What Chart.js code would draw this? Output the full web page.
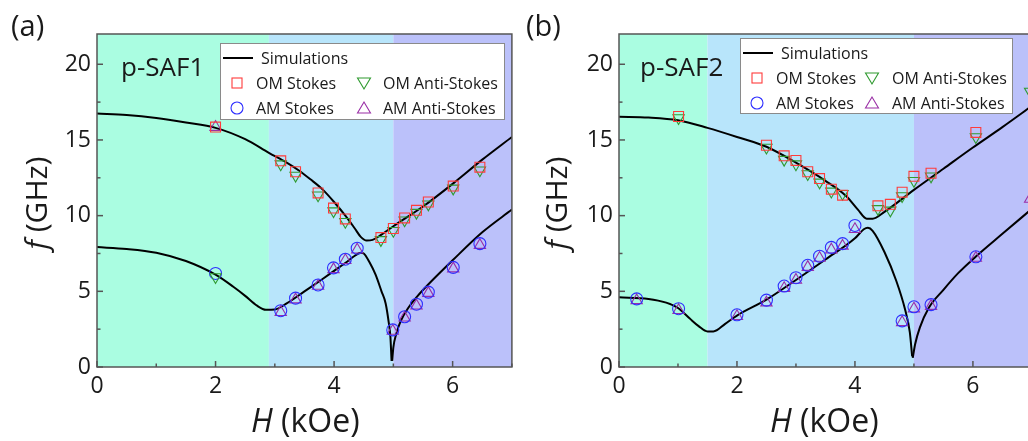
<!DOCTYPE html>
<html>
<head>
<meta charset="utf-8">
<script src="https://cdn.jsdelivr.net/npm/chart.js@4.4.1/dist/chart.umd.min.js"></script>
<style>
  body { margin: 0; background: #fff; overflow: hidden; width: 1028px; height: 441px; position: relative; font-family: 'Open Sans', sans-serif; color: #1a1a1a; }
  canvas { position: absolute; top: 0; }
  .txt { position: absolute; white-space: nowrap; line-height: 1; }
  .legend { position: absolute; background: #fff; border: 1px solid #8a8a8a; box-sizing: border-box; }
  .legend .lab { position: absolute; font-size: 16px; line-height: 1; transform: translateY(-50%); white-space: nowrap; color: #1a1a1a; }
  .legend svg { position: absolute; overflow: visible; }
</style>
</head>
<body>
<canvas id="chartA" width="520" height="441" style="left:0"></canvas>
<canvas id="chartB" width="520" height="441" style="left:520px"></canvas>

<div class="txt" style="left:11px;top:10px;font-size:29px">(a)</div>
<div class="txt" style="left:526px;top:10px;font-size:29px">(b)</div>
<div class="txt" style="left:121px;top:53px;font-size:26px">p-SAF1</div>
<div class="txt" style="left:640px;top:53px;font-size:26px">p-SAF2</div>
<div class="txt" id="ytA" style="font-size:30px"><i>f</i> (GHz)</div>
<div class="txt" id="ytB" style="font-size:30px"><i>f</i> (GHz)</div>
<div class="txt" id="xtA" style="font-size:32px"><i>H</i> (kOe)</div>
<div class="txt" id="xtB" style="font-size:32px"><i>H</i> (kOe)</div>

<script>
// ---- panel (a) : p-SAF1 ----
const hA = [2.0, 3.10, 3.35, 3.73, 3.99, 4.19, 4.79, 5.0, 5.19, 5.39, 5.59, 6.01, 6.46]
const omStokesA = [15.85, 13.62, 12.9, 11.5, 10.5, 9.78, 8.55, 9.15, 9.85, 10.35, 10.9, 11.95, 13.2]
const omAntiA = [5.95, 13.4, 12.65, 11.35, 10.3, 9.6, 8.4, 9.0, 9.7, 10.2, 10.75, 11.8, 13.0]
const hA2 = [2.0, 3.10, 3.35, 3.73, 3.99, 4.19, 4.39, 4.99, 5.19, 5.39, 5.59, 6.01, 6.46]
const amStokesA = [6.18, 3.72, 4.55, 5.42, 6.55, 7.12, 7.85, 2.45, 3.32, 4.15, 4.95, 6.58, 8.15]
const amAntiA = [15.85, 3.62, 4.45, 5.35, 6.45, 7.05, 7.75, 2.38, 3.25, 4.05, 4.88, 6.5, 8.05]

// simulation curves (a)
const simUpHA = [0, 0.5, 1, 1.5, 2, 2.5, 2.9, 3.2, 3.4, 3.6, 3.8, 4.0, 4.2, 4.35, 4.45, 4.55, 4.65, 4.8, 5.0, 5.5, 6.0, 6.5, 7.0]
const simUpFA = [16.75, 16.65, 16.45, 16.15, 15.8, 15.05, 14.15, 13.5, 13.0, 12.4, 11.75, 10.9, 9.95, 9.15, 8.6, 8.35, 8.4, 8.75, 9.3, 10.6, 12.1, 13.7, 15.2]
const simLoHA = [0, 0.5, 1, 1.5, 2.0, 2.3, 2.5, 2.7, 2.85, 3.0, 3.2, 3.5, 3.8, 4.0, 4.2, 4.35, 4.45, 4.5, 4.6, 4.7, 4.8, 4.87, 4.92, 4.95, 4.97]
const simLoFA = [7.92, 7.8, 7.55, 7.0, 6.1, 5.3, 4.7, 4.05, 3.78, 3.8, 4.2, 5.0, 5.8, 6.35, 6.9, 7.35, 7.55, 7.5, 6.9, 6.1, 5.0, 4.2, 3.0, 2.0, 0.4]
const simHiHA = [4.98, 5.0, 5.05, 5.12, 5.25, 5.4, 5.6, 6.0, 6.5, 7.0]
const simHiFA = [0.4, 1.3, 2.2, 3.0, 3.9, 4.65, 5.5, 7.05, 8.9, 10.4]
const bandsA = [0, 2.9, 5.0, 7]

// ---- panel (b) : p-SAF2 ----
const hB = [1.01, 2.5, 2.8, 3.0, 3.2, 3.4, 3.6, 3.79, 4.39, 4.6, 4.8, 5.0, 5.29, 6.05]
const omStokesB = [16.55, 14.65, 13.95, 13.65, 12.9, 12.45, 11.75, 11.35, 10.65, 10.75, 11.55, 12.6, 12.8, 15.5]
const hB1 = [1.01, 2.5, 2.8, 3.0, 3.2, 3.4, 3.6, 3.79, 4.39, 4.6, 4.8, 5.0, 5.29, 6.05, 6.97]
const omAntiB = [16.45, 14.5, 13.7, 13.4, 12.75, 12.2, 11.6, 11.45, 10.45, 10.35, 11.3, 12.3, 12.6, 15.2, 18.2]
const hB2 = [0.30, 1.01, 2.0, 2.5, 2.8, 3.0, 3.2, 3.4, 3.6, 3.79, 4.0, 4.8, 5.0, 5.29, 6.05]
const amStokesB = [4.5, 3.85, 3.45, 4.42, 5.35, 5.9, 6.72, 7.32, 7.9, 8.15, 9.35, 3.05, 3.98, 4.12, 7.28]
const hB3 = [0.30, 1.01, 2.0, 2.5, 2.8, 3.0, 3.2, 3.4, 3.6, 3.79, 4.0, 4.8, 5.0, 5.29, 6.05, 6.97]
const amAntiB = [4.4, 3.75, 3.35, 4.25, 5.2, 5.75, 6.6, 7.2, 7.75, 8.0, 9.1, 2.95, 3.85, 4.02, 7.2, 11.1]

const simUpHB = [0, 0.5, 1.0, 1.5, 2.0, 2.5, 3.0, 3.5, 3.85, 4.05, 4.2, 4.3, 4.5, 5.0, 5.5, 6.0, 6.5, 7.0]
const simUpFB = [16.53, 16.48, 16.3, 15.8, 15.2, 14.55, 13.5, 12.3, 11.3, 10.4, 9.8, 9.8, 10.25, 11.7, 13.1, 14.5, 15.85, 17.25]
const simLoHB = [0, 0.5, 0.8, 1.0, 1.2, 1.35, 1.5, 1.6, 1.8, 2.0, 2.5, 3.0, 3.5, 4.0, 4.15, 4.22, 4.3, 4.5, 4.7, 4.85, 4.93, 4.97]
const simLoFB = [4.6, 4.5, 4.25, 3.9, 3.2, 2.7, 2.35, 2.35, 2.85, 3.4, 4.45, 5.75, 7.1, 8.5, 9.1, 9.2, 9.0, 7.6, 5.7, 3.8, 2.3, 0.7]
const simHiHB = [4.98, 5.02, 5.1, 5.25, 5.5, 5.75, 6.05, 6.5, 7.0]
const simHiFB = [0.6, 1.5, 2.6, 3.9, 5.1, 6.2, 7.3, 8.8, 10.45]
const bandsB = [0, 1.5, 5.0, 7]

const bandColors = ['#aafde1', '#b8e5fb', '#bbc1fa']
const xTicks = [0, 2, 4, 6]
const yTicks = [0, 5, 10, 15, 20]

const legendLabels = ['Simulations', 'OM Stokes', 'OM Anti-Stokes', 'AM Stokes', 'AM Anti-Stokes']

const RED = '#ff3b3b', GREEN = '#2f9a2f', BLUE = '#2e2eff', PURPLE = '#9a2fa6'

function pts(xs, ys) {
    return xs.map((x, i) => ({ x: x, y: ys[i] }))
}

function simSet(xs, ys) {
    return { type: 'line', data: pts(xs, ys), borderColor: '#000', borderWidth: 2, pointRadius: 0,
        cubicInterpolationMode: 'monotone', order: 5 }
}

function markSet(xs, ys, color, style, rot, r) {
    return { type: 'scatter', data: pts(xs, ys), borderColor: color, backgroundColor: 'rgba(0,0,0,0)',
        pointStyle: style, pointRotation: rot, pointRadius: r, pointBorderWidth: 1.1, order: 1 }
}

const bandPlugin = {
    id: 'bands',
    beforeDraw(chart, args, opts) {
        const { ctx, chartArea: a, scales: { x } } = chart
        ctx.save()
        for (var i = 0; i < 3; i++) {
            let x0 = x.getPixelForValue(opts.edges[i])
            let x1 = x.getPixelForValue(opts.edges[i + 1])
            ctx.fillStyle = bandColors[i]
            ctx.fillRect(x0, a.top, x1 - x0, a.bottom - a.top)
        }
        ctx.restore()
    }
}

const framePlugin = {
    id: 'frame',
    afterDraw(chart) {
        const { ctx, chartArea: a, scales: { x, y } } = chart
        ctx.save()
        ctx.strokeStyle = '#555'
        ctx.lineWidth = 1.5
        // minor and major ticks, pointing inward
        for (var v = 0; v <= 7; v++) {
            let px = x.getPixelForValue(v)
            let len = v % 2 == 0 ? 6 : 3.5
            ctx.beginPath(); ctx.moveTo(px, a.bottom); ctx.lineTo(px, a.bottom - len); ctx.stroke()
        }
        for (var w = 0; w <= 22; w += 2.5) {
            let py = y.getPixelForValue(w)
            let len = w % 5 == 0 ? 6 : 3.5
            ctx.beginPath(); ctx.moveTo(a.left, py); ctx.lineTo(a.left + len, py); ctx.stroke()
        }
        ctx.strokeRect(a.left, a.top, a.right - a.left, a.bottom - a.top)
        ctx.restore()
    }
}

function makeChart(id, sets, edges, leftW) {
    return new Chart(document.getElementById(id), {
        data: { datasets: sets },
        options: {
            responsive: false,
            animation: false,
            layout: { padding: { left: 0, top: 34, right: 7, bottom: 0 } },
            plugins: { legend: { display: false }, tooltip: { enabled: false }, bands: { edges: edges } },
            scales: {
                x: {
                    type: 'linear', min: 0, max: 7,
                    grid: { display: false, drawTicks: false }, border: { display: false },
                    afterFit: s => { s.height = 74 },
                    afterBuildTicks: s => { s.ticks = xTicks.map(v => ({ value: v })) },
                    ticks: { padding: 6, color: '#1a1a1a', font: { family: 'Open Sans', size: 23 } }
                },
                y: {
                    type: 'linear', min: 0, max: 22,
                    grid: { display: false, drawTicks: false }, border: { display: false },
                    afterFit: s => { s.width = leftW },
                    afterBuildTicks: s => { s.ticks = yTicks.map(v => ({ value: v })) },
                    ticks: { padding: 6, color: '#1a1a1a', font: { family: 'Open Sans', size: 23 } }
                }
            }
        },
        plugins: [bandPlugin, framePlugin]
    })
}

const chartA = makeChart('chartA', [
    simSet(simUpHA, simUpFA), simSet(simLoHA, simLoFA), simSet(simHiHA, simHiFA),
    markSet(hA, omStokesA, RED, 'rect', 0, 7),
    markSet(hA, omAntiA, GREEN, 'triangle', 180, 6.5),
    markSet(hA2, amStokesA, BLUE, 'circle', 0, 6),
    markSet(hA2, amAntiA, PURPLE, 'triangle', 0, 6.5)
], bandsA, 97)

const chartB = makeChart('chartB', [
    simSet(simUpHB, simUpFB), simSet(simLoHB, simLoFB), simSet(simHiHB, simHiFB),
    markSet(hB, omStokesB, RED, 'rect', 0, 7),
    markSet(hB1, omAntiB, GREEN, 'triangle', 180, 6.5),
    markSet(hB2, amStokesB, BLUE, 'circle', 0, 6),
    markSet(hB3, amAntiB, PURPLE, 'triangle', 0, 6.5)
], bandsB, 99)

// axis titles placed from chart areas
function placeTitles(chart, offX, xt, yt) {
    const a = chart.chartArea
    const xe = document.getElementById(xt)
    const ye = document.getElementById(yt)
    xe.style.left = (offX + (a.left + a.right) / 2 + 1 - xe.offsetWidth / 2 - (offX ? 2 : 0)) + 'px'
    xe.style.top = '404px'
    ye.style.left = (offX + 36 - ye.offsetWidth / 2) + 'px'
    ye.style.top = (203 - ye.offsetHeight / 2) + 'px'
    ye.style.transform = 'rotate(-90deg)'
}
placeTitles(chartA, 0, 'xtA', 'ytA')
placeTitles(chartB, 520, 'xtB', 'ytB')

// legends
function marker(kind, color) {
    if (kind == 'rect') return '<rect x="-5" y="-5" width="10" height="10" fill="none" stroke="' + color + '" stroke-width="1.1"/>'
    if (kind == 'circle') return '<circle r="6" fill="none" stroke="' + color + '" stroke-width="1.1"/>'
    if (kind == 'down') return '<polygon points="-6.5,-5 6.5,-5 0,6" fill="none" stroke="' + color + '" stroke-width="1.1"/>'
    return '<polygon points="-6.5,5 6.5,5 0,-6" fill="none" stroke="' + color + '" stroke-width="1.1"/>'
}

function buildLegend(left, top, w, h, col2Mark, col2Text) {
    const box = document.createElement('div')
    box.className = 'legend'
    box.style.left = left + 'px'; box.style.top = top + 'px'
    box.style.width = w + 'px'; box.style.height = h + 'px'
    let html = '<svg style="left:0;top:0" width="1" height="1"><line x1="2" y1="14" x2="32" y2="14" stroke="#000" stroke-width="2"/></svg>'
    html += '<div class="lab" style="left:40px;top:14px">' + legendLabels[0] + '</div>'
    const items = [
        [16, 39, 'rect', RED, 35, 1], [col2Mark, 39, 'down', GREEN, col2Text, 2],
        [16, 64, 'circle', BLUE, 35, 3], [col2Mark, 64, 'up', PURPLE, col2Text, 4]
    ]
    items.forEach(it => {
        html += '<svg style="left:' + it[0] + 'px;top:' + it[1] + 'px" width="1" height="1">' + marker(it[2], it[3]) + '</svg>'
        html += '<div class="lab" style="left:' + it[4] + 'px;top:' + it[1] + 'px">' + legendLabels[it[5]] + '</div>'
    })
    box.innerHTML = html
    document.body.appendChild(box)
}
buildLegend(220, 43, 285, 77, 143, 162)
buildLegend(740, 38, 273, 76, 131, 151)
</script>
</body>
</html>
